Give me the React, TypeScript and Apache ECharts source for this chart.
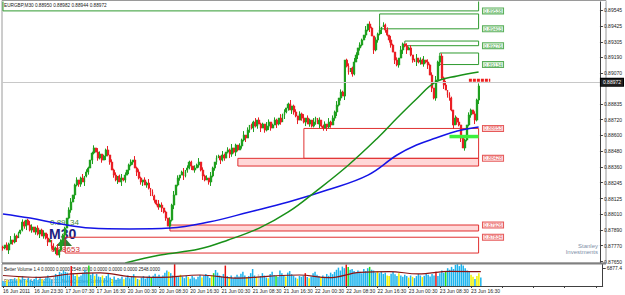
import React, { useEffect, useRef } from "react";
import * as echarts from "echarts";

const symbolTitle = "EURGBP,M30 0.88950 0.88982 0.88944 0.88972";
const volumeTitle = "Better Volume 1.4 0.0000 0.0000 2548.0000 0.0000 0.0000 0.0000 2548.0000";
const copyrightText = "FXCM MT4 Ag. 2001-2011 MetaQuotes Software Corp.";
const watermark = ["Stanley", "Investments"];

const categoryCount = 308;
const firstOpen = 0.8776;
const lastPrice = 0.88972;

const closes = [
  0.87753, 0.87775, 0.87738, 0.87783, 0.87813, 0.87798, 0.87843, 0.87828, 0.87866, 0.87888,
  0.87948, 0.87918, 0.87963, 0.87926,
  0.87888, 0.87911, 0.87873, 0.87903, 0.87858, 0.87888, 0.87843, 0.87866, 0.87828,
  0.87798, 0.87813, 0.87768, 0.87738, 0.87753, 0.877,
  0.87738, 0.87798, 0.8785, 0.87903, 0.87978, 0.88039, 0.88099,
  0.88152, 0.88227, 0.88265, 0.88234, 0.8828, 0.8825,
  0.88295, 0.88325, 0.88355, 0.88415, 0.88468,
  0.88506, 0.88475, 0.8843, 0.8846, 0.88415, 0.88445, 0.88491,
  0.88453, 0.884, 0.8834, 0.88302, 0.88265,
  0.88295, 0.8825, 0.8828, 0.88265, 0.88302,
  0.8834, 0.88378, 0.884, 0.88415,
  0.88355, 0.88325, 0.8828, 0.8825, 0.88265, 0.88227,
  0.88242, 0.88204, 0.88174, 0.88144, 0.88114,
  0.88084, 0.88061, 0.88076, 0.88054, 0.88024, 0.87978, 0.87918,
  0.87963, 0.88076,
  0.88152, 0.88227, 0.8828, 0.88302,
  0.88325, 0.88295, 0.8834, 0.88355, 0.884,
  0.8837, 0.8834, 0.88355, 0.88378, 0.884,
  0.8834, 0.88295, 0.88265, 0.8828, 0.8825, 0.88295,
  0.88355, 0.884, 0.8843, 0.88445,
  0.88415, 0.88453, 0.8843, 0.88475, 0.88491, 0.8846,
  0.88506, 0.88475, 0.88528, 0.88491, 0.88521,
  0.88566, 0.88603, 0.88581, 0.88641, 0.88679,
  0.88656, 0.88701, 0.88671, 0.88716, 0.88686,
  0.88656, 0.88686, 0.88641, 0.88671, 0.88701, 0.88656, 0.88679,
  0.88716, 0.88686, 0.88731, 0.88701, 0.88754,
  0.88777, 0.88807, 0.88837, 0.88792, 0.88822,
  0.88777, 0.88747, 0.88716, 0.88762, 0.88731,
  0.88701, 0.88731, 0.88686, 0.88716, 0.88671, 0.88701, 0.88731,
  0.88686, 0.88716, 0.88671, 0.88656, 0.88686, 0.88664,
  0.88701, 0.88679, 0.88731, 0.88777,
  0.88829, 0.88882, 0.88927, 0.88897,
  0.89168,
  0.89123, 0.89078, 0.89108, 0.89063,
  0.89153, 0.89206, 0.89259, 0.89281,
  0.89319, 0.89356, 0.89394, 0.89439,
  0.89409, 0.89349, 0.89244, 0.89319,
  0.89364, 0.89394, 0.89417, 0.89432,
  0.89394, 0.89356, 0.89319,
  0.89281, 0.89228, 0.89168, 0.89131,
  0.89183, 0.89244, 0.89289,
  0.89274, 0.89244, 0.89259, 0.89206, 0.89168,
  0.89153, 0.89183, 0.89153, 0.89168, 0.89138, 0.89168,
  0.89153, 0.89131,
  0.89055, 0.88957, 0.88882,
  0.89018, 0.89153, 0.89198,
  0.89033, 0.8898, 0.88942, 0.88905, 0.88882,
  0.88792, 0.88679, 0.88731,
  0.88701, 0.88679,
  0.88581, 0.88506, 0.88566,
  0.88679, 0.88754, 0.88792,
  0.88762, 0.88716,
  0.88867, 0.88972,
];

// wick lengths in pips (one digit per bar)
const wickUpPips =
  "1021302110" + "2101320120" + "1203102130" + "2110230120" + "1302101203" +
  "2011302120" + "1302012031" + "2102130210" + "3120102130" + "2013021102" +
  "1302120310" + "2103102130" + "1021302011" + "3021103201" + "2103120130" +
  "1202130210" + "3102012031" + "2130210120" + "1320210302" + "1021302120" +
  "3102031021" + "2013021302" + "1203102130" + "2102130210" + "210212";
const wickDownPips =
  "2103021301" + "1230120213" + "0213021302" + "1320120312" + "2031203102" +
  "1203120213" + "0312031203" + "1230213021" + "2031202130" + "1203121302" +
  "0213102312" + "2031201321" + "3102130213" + "1203021320" + "0312031203" +
  "2130213021" + "1203120312" + "0231203120" + "2103210213" + "0312130212" +
  "2031203130" + "1203120213" + "0312031302" + "2130213021" + "120313";

// tick volume in hundreds
const volumes = [
  19, 14, 24, 16, 27, 22, 30, 20, 34, 24,
  38, 27, 22, 32, 24, 19, 27, 35, 23, 30,
  26, 20, 32, 40, 30, 24, 35, 46, 38, 54,
  49, 59, 54, 51, 40, 76, 47, 38, 45, 35,
  40, 51, 61, 54, 78, 43, 49, 39, 46, 36,
  34, 40, 30, 38, 47, 32, 27, 36, 24, 31,
  28, 35, 26, 32, 40, 30, 36, 45, 34, 27,
  24, 32, 38, 28, 35, 40, 31, 39, 47, 36,
  43, 35, 40, 51, 59, 54, 49, 40, 84, 38,
  34, 43, 36, 30, 40, 35, 28, 38, 32, 26,
  35, 42, 32, 39, 46, 38, 31, 40, 49, 61,
  51, 40, 35, 46, 78, 38, 32, 40, 30, 35,
  43, 36, 47, 54, 40, 34, 38, 49, 65, 40,
  35, 45, 38, 49, 40, 32, 30, 46, 54, 42,
  38, 34, 59, 49, 40, 36, 51, 57, 45, 39,
  32, 28, 38, 35, 40, 49, 34, 30, 36, 49,
  54, 43, 38, 32, 40, 35, 46, 39, 51, 45,
  54, 62, 70, 59, 74, 68, 82, 73, 62, 65,
  57, 51, 59, 54, 49, 65, 57, 68, 73, 62,
  59, 51, 57, 49, 54, 46, 51, 40, 38, 47,
  54, 45, 38, 49, 40, 35, 43, 38, 32, 40,
  35, 30, 38, 46, 40, 34, 39, 49, 43, 36,
  46, 40, 54, 38, 49, 59, 51, 57, 68, 62,
  73, 65, 81, 84, 76, 84, 78, 68, 59, 54,
  43, 35, 27, 38, 49, 32,
];
// b = normal, y = low, g = churn, r = climax, w = climax churn
const volumeClasses =
  "bbybbbbbyb" + "bbybbbbbbb" + "ybbbbbwbbb" + "bbbbbrbbyb" + "bbbbgbbybb" +
  "bybbbbybbb" + "bbybbbbbyb" + "ybbbbbgbbb" + "bbbbbybbrb" + "bybbbybbbb" +
  "bbybbbbygb" + "bbbbrbybbb" + "bbbbbybbbb" + "ywbbbbybbb" + "gbbbbybbbb" +
  "bybbbrbybb" + "bbbybbbbbb" + "bbbbbbrgbb" + "bbbbbbbbgb" + "bbybbbbyyb" +
  "bbbybbbbyb" + "ybbbbybbbb" + "bbrbbbbgbb" + "bbbbbbbbbb" + "yybyyb";

const volumeMA = [
  [0, 40], [19, 33], [35, 46], [50, 50], [65, 36], [81, 33], [101, 42], [121, 30],
  [137, 38], [152, 42], [167, 32], [183, 52], [198, 55], [213, 46], [229, 56], [245, 55],
];

const blueMA = [
  [0, 0.88009], [14, 0.87978], [30, 0.87933], [45, 0.87903], [65, 0.87896], [86, 0.87903],
  [106, 0.87948], [127, 0.88024], [147, 0.88099], [167, 0.88189], [188, 0.88302],
  [203, 0.88453], [213, 0.88528], [223, 0.88581], [234, 0.88634], [245, 0.88664],
];
const greenMA = [
  [63, 0.8764], [81, 0.877], [101, 0.87745], [116, 0.87813], [132, 0.87903], [147, 0.88024],
  [162, 0.88189], [178, 0.88378], [193, 0.88581], [203, 0.88731], [213, 0.88875],
  [223, 0.89003], [234, 0.89048], [245, 0.89078],
];

const zones = [
  { from: 0, to: 245, hi: 0.8966, lo: 0.89538, side: "resistance", kind: "box", label: 0.89538 },
  { from: 194, to: 245, hi: 0.89515, lo: 0.89403, side: "resistance", kind: "box", label: 0.89403 },
  { from: 207, to: 245, hi: 0.89311, lo: 0.89276, side: "resistance", kind: "box", label: 0.89276 },
  { from: 225, to: 245, hi: 0.89221, lo: 0.89134, side: "resistance", kind: "box", label: 0.89134 },
  { from: 155, to: 245, hi: 0.88653, lo: 0.88428, side: "support", kind: "box", label: 0.88653 },
  { from: 121, to: 245, hi: 0.88428, lo: 0.8837, side: "support", kind: "band", label: 0.88428 },
  { from: 86, to: 245, hi: 0.87926, lo: 0.87881, side: "support", kind: "band", label: 0.87926 },
  { from: 32, to: 245, hi: 0.87834, lo: 0.87715, side: "support", kind: "box", label: 0.87834 },
];
const zoneLabelIndex = 247;

const limeMarker = [[230, 0.88592], [245, 0.88592]];
const redMarker = [[240, 0.89015], [251, 0.89015]];

const xTickLabels = [
  "16 Jun 2011", "16 Jun 23:30", "17 Jun 07:30", "17 Jun 16:30", "20 Jun 00:30",
  "20 Jun 08:30", "20 Jun 16:30", "21 Jun 00:30", "21 Jun 08:30", "21 Jun 16:30",
  "22 Jun 00:30", "22 Jun 08:30", "22 Jun 16:30", "23 Jun 00:30", "23 Jun 08:30",
  "23 Jun 16:30",
];
const priceTicks = [
  0.89545, 0.89425, 0.89305, 0.8919, 0.8907, 0.88835, 0.8872, 0.886, 0.8848, 0.8836,
  0.88245, 0.88125, 0.8801, 0.8789, 0.8777, 0.8765,
];
const volumeTicks = [68.774];

const FONT = '"Liberation Sans", Arial, sans-serif';

export default function App() {
  const ref = useRef<HTMLDivElement>(null);
  useEffect(() => {
    if (!ref.current) return;
    const chart = echarts.init(ref.current, null, { renderer: "svg" });
    const cats = Array.from({ length: categoryCount }, (_, i) => String(i));
    const ohlc = closes.map((c, i) => {
      const o = i === 0 ? firstOpen : closes[i - 1];
      const up = Number(wickUpPips[i] || 0) * 0.0001;
      const dn = Number(wickDownPips[i] || 0) * 0.0001;
      return [o, c, Math.min(o, c) - dn, Math.max(o, c) + up];
    });
    const volColorMap: Record<string, string> = {
      b: "#1cb4ee", y: "#f2f200", g: "#22e022", r: "#e81010", w: "#cfcfcf",
    };
    const green = "#2e9a2e";
    const red = "#e03030";

    chart.setOption({
      animation: false,
      backgroundColor: "#ffffff",
      grid: [
        { left: 2, right: 19, top: 0, height: 263 },
        { left: 2, right: 19, top: 264, height: 22 },
      ],
      xAxis: [
        {
          type: "category", gridIndex: 0, data: cats, boundaryGap: true,
          axisLine: { show: false }, axisTick: { show: false }, axisLabel: { show: false },
        },
        {
          type: "category", gridIndex: 1, data: cats, boundaryGap: true,
          axisLine: { show: true, lineStyle: { color: "#404040", width: 1 } },
          axisTick: { show: true, alignWithLabel: true, interval: 15, length: 2, lineStyle: { color: "#404040" } },
          axisLabel: {
            show: true, interval: 15, align: "left", margin: 2, fontSize: 5, color: "#222",
            fontFamily: FONT,
            formatter: (_v: string, idx: number) => xTickLabels[idx / 16] ?? "",
          },
        },
      ],
      yAxis: [
        {
          type: "value", gridIndex: 0, position: "right", min: 0.8764, max: 0.8962,
          axisLine: { show: true, lineStyle: { color: "#404040" } },
          axisTick: { show: true, length: 3, customValues: priceTicks, lineStyle: { color: "#404040" } },
          axisLabel: {
            show: true, customValues: priceTicks, margin: 4, fontSize: 5, color: "#222",
            fontFamily: FONT, formatter: (v: number) => v.toFixed(5),
          },
          splitLine: { show: false },
        },
        {
          type: "value", gridIndex: 1, position: "right", min: 0, max: 84,
          axisLine: { show: true, lineStyle: { color: "#404040" } },
          axisTick: { show: true, length: 3, customValues: volumeTicks, lineStyle: { color: "#404040" } },
          axisLabel: {
            show: true, customValues: volumeTicks, margin: 4, fontSize: 5, color: "#222",
            fontFamily: FONT, formatter: (v: number) => (v * 100).toFixed(1),
          },
          splitLine: { show: false },
        },
      ],
      series: [
        {
          type: "candlestick", name: "EURGBP shadow", xAxisIndex: 0, yAxisIndex: 0, data: ohlc,
          barWidth: 3.2, silent: true,
          itemStyle: {
            color: "rgba(60,190,60,0.22)", color0: "rgba(240,90,90,0.22)",
            borderColor: "rgba(60,190,60,0.22)", borderColor0: "rgba(240,90,90,0.22)", borderWidth: 0.5,
          },
        },
        {
          type: "candlestick", name: "EURGBP", xAxisIndex: 0, yAxisIndex: 0, data: ohlc,
          barWidth: 1.4,
          itemStyle: { color: "#1f9f1f", color0: "#ea1f25", borderColor: "#1f9f1f", borderColor0: "#ea1f25", borderWidth: 1 },
          markArea: {
            silent: true,
            data: zones.map((z) => [
              {
                xAxis: z.from, yAxis: z.hi,
                itemStyle: {
                  color: z.kind === "band" ? "rgba(255,140,140,0.35)" : "rgba(0,0,0,0)",
                  borderColor: z.side === "resistance" ? green : red,
                  borderWidth: 1,
                },
              },
              { xAxis: z.to, yAxis: z.lo },
            ]),
          },
          markLine: {
            silent: true, symbol: ["none", "none"],
            lineStyle: { color: "#c8c8c8", type: "solid", width: 1 },
            label: {
              show: true, position: "end", formatter: lastPrice.toFixed(5), fontSize: 5,
              fontFamily: FONT, color: "#ffffff", backgroundColor: "#202020",
              borderColor: "#000", borderWidth: 1, padding: [1, 2], distance: 1,
            },
            data: [{ yAxis: lastPrice }],
          },
        },
        {
          type: "line", name: "MA slow", xAxisIndex: 0, yAxisIndex: 0, data: blueMA,
          smooth: 0.4, symbol: "none", lineStyle: { color: "#1414e6", width: 1.5 },
        },
        {
          type: "line", name: "MA fast", xAxisIndex: 0, yAxisIndex: 0, data: greenMA,
          smooth: 0.4, symbol: "none", lineStyle: { color: "#189018", width: 1.5 },
        },
        {
          type: "line", name: "buy", xAxisIndex: 0, yAxisIndex: 0, data: limeMarker,
          symbol: "none", lineStyle: { color: "#3cf03c", width: 3.5, type: "solid" },
        },
        {
          type: "line", name: "sell", xAxisIndex: 0, yAxisIndex: 0, data: redMarker,
          symbol: "none", lineStyle: { color: "#ee2020", width: 3, type: [3, 1] },
        },
        {
          type: "scatter", name: "levels", xAxisIndex: 0, yAxisIndex: 0, symbolSize: 1,
          itemStyle: { color: "rgba(0,0,0,0)" },
          data: zones.map((z) => ({
            value: [zoneLabelIndex, z.label],
            label: {
              show: true, position: "right", distance: 0, formatter: z.label.toFixed(5),
              fontSize: 5, fontFamily: FONT,
              color: z.side === "resistance" ? green : red,
              borderColor: z.side === "resistance" ? green : red, borderWidth: 1,
              backgroundColor: z.side === "resistance" ? "#eefaee" : "#fff0f0",
              padding: [0, 1],
            },
          })),
        },
        {
          type: "bar", name: "Better Volume", xAxisIndex: 1, yAxisIndex: 1, barWidth: 1.5,
          data: volumes.map((v, i) => ({ value: v, itemStyle: { color: volColorMap[volumeClasses[i]] || "#1cb4ee" } })),
        },
        {
          type: "line", name: "Volume MA", xAxisIndex: 1, yAxisIndex: 1, data: volumeMA,
          smooth: 0.4, symbol: "none", lineStyle: { color: "#8b1414", width: 1.2 },
        },
      ],
      graphic: [
        { type: "rect", shape: { x: 2, y: 0.5, width: 604, height: 262.5 }, style: { fill: "none", stroke: "#9a9a9a", lineWidth: 1 }, z: 0, silent: true },
        { type: "rect", shape: { x: 2, y: 0, width: 604, height: 1.5 }, style: { fill: "#ffffff" }, z: 100, silent: true },
        { type: "line", shape: { x1: 2, y1: 0.5, x2: 606, y2: 0.5 }, style: { stroke: "#9a9a9a", lineWidth: 1 }, z: 101, silent: true },
        { type: "line", shape: { x1: 2, y1: 263.5, x2: 606, y2: 263.5 }, style: { stroke: "#808080", lineWidth: 2 }, z: 100, silent: true },
        { type: "line", shape: { x1: 2, y1: 264, x2: 2, y2: 286 }, style: { stroke: "#9a9a9a", lineWidth: 1 }, silent: true },
        { type: "text", x: 4, y: 2.5, style: { text: symbolTitle, fontSize: 4.7, fontFamily: FONT, fill: "#222" }, z: 102, silent: true },
        { type: "text", x: 4, y: 266.5, style: { text: volumeTitle, fontSize: 4.5, fontFamily: FONT, fill: "#222" }, silent: true },
        { type: "text", x: 4, y: 279, style: { text: copyrightText, fontSize: 4.8, fontFamily: FONT, fill: "#555" }, silent: true },
        { type: "text", x: 50, y: 218, style: { text: zones[3].label.toFixed(5), fontSize: 8, fontFamily: FONT, fill: "#3a8a3a" }, silent: true },
        { type: "polygon", shape: { points: [[56, 246], [72, 246], [64, 237]] }, style: { fill: "#2e7d32" }, silent: true },
        { type: "text", x: 49, y: 227, style: { text: "M30", fontSize: 14, fontWeight: "bold", fontFamily: FONT, fill: "#1c1c80" }, silent: true },
        { type: "text", x: 51, y: 245, style: { text: zones[4].label.toFixed(5), fontSize: 8, fontFamily: FONT, fill: "#d03030" }, silent: true },
        { type: "text", x: 598, y: 243, style: { text: watermark[0], fontSize: 6, fontFamily: FONT, fill: "#8090a8", align: "right", textAlign: "right" }, silent: true },
        { type: "text", x: 598, y: 249, style: { text: watermark[1], fontSize: 6, fontFamily: FONT, fill: "#8090a8", align: "right", textAlign: "right" }, silent: true },
      ],
    });
    return () => chart.dispose();
  }, []);
  return <div ref={ref} style={{ position: "fixed", left: 0, top: 0, width: 625, height: 295 }} />;
}
